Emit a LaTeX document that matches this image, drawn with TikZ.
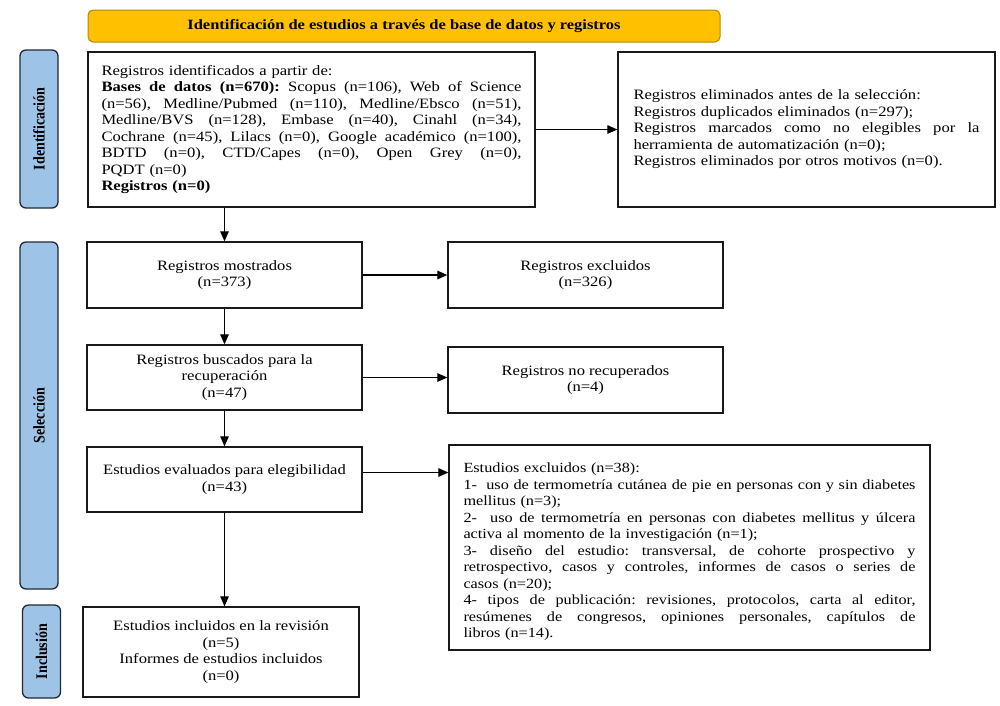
\documentclass[tikz,border=0pt]{standalone}
\usepackage{graphicx}
\usepackage{fontspec}
\setmainfont{Liberation Serif}[FakeStretch=1.16]
\newfontfamily\plainserif{Liberation Serif}
\usetikzlibrary{arrows.meta}
\definecolor{bannerfill}{HTML}{FFC000}
\definecolor{bannerline}{HTML}{B08A00}
\definecolor{sidefill}{HTML}{9DC3E6}
\definecolor{sideline}{HTML}{1F2A36}
\newcommand{\jl}[2]{{\spaceskip=0.29em plus 1.5em minus 0.12em\xspaceskip=\spaceskip\makebox[#1][s]{#2}}}
\newcommand{\sidetext}[1]{\scalebox{1}[1.16]{#1}}
\begin{document}
\begin{tikzpicture}[x=1pt,y=-1pt,
  bx/.style={draw=black!90, line width=1.3pt, inner sep=0pt,
    font=\fontsize{14.3}{16.5}\selectfont\frenchspacing},
  cbox/.style={bx, align=center},
  side/.style={draw=sideline, fill=sidefill, line width=1.3pt, rounded corners=6pt,
    rotate=90, inner sep=0pt, minimum height=38pt,
    font=\plainserif\bfseries\fontsize{14}{16}\selectfont},
  banner/.style={draw=bannerline, fill=bannerfill, line width=1pt, rounded corners=5pt,
    inner sep=0pt, font=\bfseries\fontsize{14.2}{16}\selectfont},
  arr/.style={line width=1.2pt, -{Triangle[length=10pt,width=8.5pt]}}
]
\useasboundingbox (0,0) rectangle (1000,705);
\fill[white] (0,0) rectangle (1000,705);

% banner
\node[banner, minimum width=632pt, minimum height=32pt] (ban) at (404,26)
  {Identificación de estudios a través de base de datos y registros};

% side labels
\node[side, minimum width=158pt] (sid) at (39,129) {\sidetext{Identificación}};
\node[side, minimum width=347pt] (ssel) at (39,415.5) {\sidetext{Selección}};
\node[side, minimum width=93pt] (sinc) at (41.5,651.5) {\sidetext{Inclusión}};

% identification box
\node[bx, minimum width=447pt, minimum height=155pt, text width=420pt, align=left]
  (id) at (311.5,129.5) {Registros identificados a partir de:\\
  \jl{420pt}{\textbf{Bases de datos (n=670):} Scopus (n=106), Web of Science}\\
  \jl{420pt}{(n=56), Medline/Pubmed (n=110), Medline/Ebsco (n=51),}\\
  \jl{420pt}{Medline/BVS (n=128), Embase (n=40), Cinahl (n=34),}\\
  \jl{420pt}{Cochrane (n=45), Lilacs (n=0), Google académico (n=100),}\\
  \jl{420pt}{BDTD (n=0), CTD/Capes (n=0), Open Grey (n=0),}\\
  PQDT (n=0)\\
  \textbf{Registros (n=0)}};

% removed before selection
\node[bx, minimum width=377pt, minimum height=155pt, text width=346pt, align=left]
  (elim) at (806.5,129.5) {Registros eliminados antes de la selección:\\
  Registros duplicados eliminados (n=297);\\
  \jl{346pt}{Registros marcados como no elegibles por la}\\
  herramienta de automatización (n=0);\\
  Registros eliminados por otros motivos (n=0).};

% selection column
\node[cbox, minimum width=275pt, minimum height=66pt] (mos) at (224.5,275)
  {Registros mostrados\\(n=373)};
\node[cbox, minimum width=275pt, minimum height=66pt] (exc) at (585.5,275)
  {Registros excluidos\\(n=326)};
\node[cbox, minimum width=275pt, minimum height=65pt] (bus) at (224.5,377.5)
  {Registros buscados para la\\recuperación\\(n=47)};
\node[cbox, minimum width=275pt, minimum height=66pt] (norec) at (585.5,380)
  {Registros no recuperados\\(n=4)};
\node[cbox, minimum width=275pt, minimum height=65pt] (eva) at (224.5,479.5)
  {Estudios evaluados para elegibilidad\\(n=43)};

% excluded studies
\node[bx, minimum width=481pt, minimum height=205pt, text width=452pt, align=left,
  font=\fontsize{14}{16.5}\selectfont\frenchspacing]
  (ex38) at (689.5,547.5) {\rule{0pt}{18pt}Estudios excluidos (n=38):\\
  \jl{452pt}{1-\ \ uso de termometría cutánea de pie en personas con y sin diabetes}\\
  mellitus (n=3);\\
  \jl{452pt}{2-\ \ uso de termometría en personas con diabetes mellitus y úlcera}\\
  activa al momento de la investigación (n=1);\\
  \jl{452pt}{3- diseño del estudio: transversal, de cohorte prospectivo y}\\
  \jl{452pt}{retrospectivo, casos y controles, informes de casos o series de}\\
  casos (n=20);\\
  \jl{452pt}{4- tipos de publicación: revisiones, protocolos, carta al editor,}\\
  \jl{452pt}{resúmenes de congresos, opiniones personales, capítulos de}\\
  libros (n=14).};

% included
\node[cbox, minimum width=276pt, minimum height=90pt] (inc) at (221,652)
  {Estudios incluidos en la revisión\\(n=5)\\Informes de estudios incluidos\\(n=0)};

% connectors
\draw[arr] (id.south -| mos.north) -- (mos.north);
\draw[arr] (id.east) -- (elim.west);
\draw[arr] (mos.east) -- (exc.west);
\draw[arr] (mos.south) -- (bus.north);
\draw[arr] (bus.east) -- (bus.east -| norec.west);
\draw[arr] (bus.south) -- (eva.north);
\draw[arr] ([yshift=7pt]eva.east) -- ([yshift=7pt]eva.east -| ex38.west);
\draw[arr] (eva.south) -- (eva.south |- inc.north);
\end{tikzpicture}
\end{document}
